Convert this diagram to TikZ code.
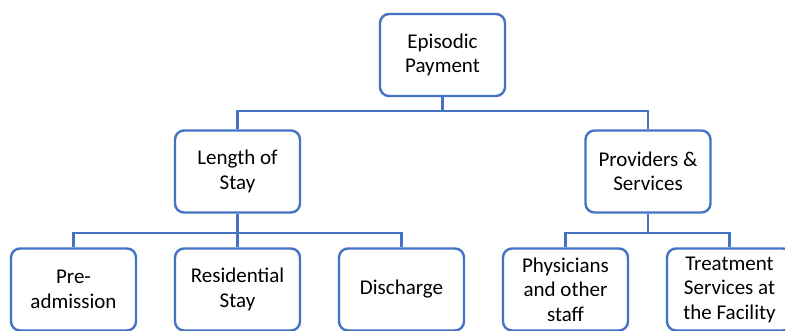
\documentclass[tikz,border=0pt]{standalone}
\usepackage{fontspec}
\setmainfont{Carlito}
\usetikzlibrary{positioning}
\definecolor{boxblue}{HTML}{4472C4}
\tikzstyle{box}=[draw=boxblue, line width=2.4pt, rounded corners=9pt, fill=white,
  minimum width=125pt, minimum height=82pt, align=center, inner sep=2pt,
  font=\fontsize{21}{24.5}\selectfont]
\tikzstyle{link}=[draw=boxblue, line width=2.4pt]

\begin{document}
\begin{tikzpicture}[x=1pt, y=1pt, node distance=164pt, on grid]
  \useasboundingbox (0,0) rectangle (785,-330);
  \clip (0,0) rectangle (785,-330);

  \node[box] (pre) at (73.5,-289.5) {Pre-\\admission};
  \node[box, right=of pre] (res) {Residential\\Stay};
  \node[box, right=of res] (dis) {Discharge};
  \node[box, right=of dis] (phys) {Physicians\\and other\\staff};
  \node[box, right=of phys] (treat) {Treatment\\Services at\\the Facility};

  \node[box, above=118pt of res] (los) {Length of\\Stay};
  \node[box, above=118pt of phys, xshift=82.5pt] (prov) {Providers \&\\Services};
  \node[box, above=116.5pt of los, xshift=205pt] (pay) {Episodic\\Payment};

  \draw[link] (pay.south) -- ++(0,-14) -| (los.north);
  \draw[link] (pay.south) -- ++(0,-14) -| (prov.north);
  \foreach \kid in {pre,res,dis}
    \draw[link] (los.south) -- ++(0,-19) -| (\kid.north);
  \foreach \kid in {phys,treat}
    \draw[link] (prov.south) -- ++(0,-19) -| (\kid.north);
\end{tikzpicture}
\end{document}
